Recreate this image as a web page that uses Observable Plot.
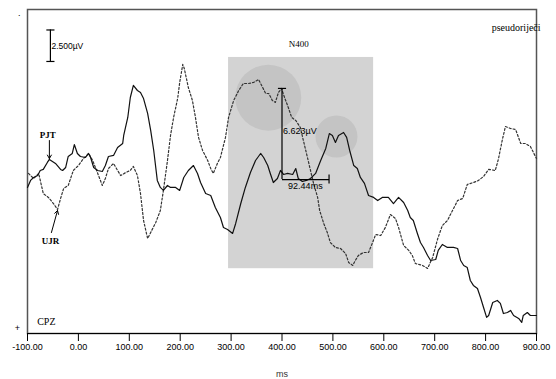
<!DOCTYPE html>
<html>
<head>
<meta charset="utf-8">
<script src="https://cdn.jsdelivr.net/npm/d3@7"></script>
<script src="https://cdn.jsdelivr.net/npm/@observablehq/plot@0.6"></script>
<style>
  html, body { margin: 0; padding: 0; background: #fff; }
  #chart svg { display: block; }
</style>
</head>
<body>
<div id="chart"></div>
<script>
// ---- data (ms, µV; negative drawn upward) ----
const timesPJT = [-100,-94,-88,-80,-75,-69,-61,-57,-45,-35,-31,-25,-20,-12,-8,-2,4,14,20,24,30,38,47,53,59,69,77,87,89,97,102,108,116,122,128,136,142,148,155,161,167,175,181,191,199,207,216,226,234,240,250,260,269,279,285,293,303,309,319,328,338,348,358,364,372,377,383,391,397,403,411,421,427,432,440,448,456,466,476,486,493,499,505,511,521,527,533,541,548,554,562,570,580,588,597,609,619,629,639,647,652,658,666,672,678,686,692,702,707,715,725,737,745,751,757,764,770,776,784,790,796,802,806,814,823,829,835,843,849,855,865,871,874,882,888,900];
const valuesPJT = [0.73,0.19,-0.04,-0.19,-0.58,-0.66,-1.20,-1.43,-1.12,-0.66,-0.58,-0.81,-1.66,-1.89,-2.58,-1.89,-1.66,-1.58,-1.89,-1.58,-0.81,-0.58,-0.50,-0.96,-1.66,-1.74,-2.35,-2.66,-3.28,-4.67,-6.21,-7.14,-6.75,-6.60,-6.13,-4.98,-3.67,-2.12,0.19,0.73,0.96,0.58,0.73,0.73,0.96,-0.04,-0.58,-0.96,-0.35,0.35,1.20,1.35,2.28,3.05,3.82,3.97,4.28,3.51,1.97,0.73,-0.42,-1.35,-1.89,-1.58,-0.96,-0.35,0.35,0.04,-0.58,-0.27,-0.35,-0.27,-0.73,0.04,0.27,0.19,0.04,-0.35,-1.35,-2.28,-3.43,-3.28,-2.74,-3.28,-3.51,-3.13,-2.12,-0.96,-0.73,-0.04,0.42,1.35,1.50,1.74,1.50,1.50,1.97,1.50,1.89,2.51,3.05,3.28,4.28,4.98,5.36,5.98,6.37,6.29,5.59,5.13,5.36,5.36,5.44,6.37,6.75,6.91,7.91,8.29,8.53,9.22,9.99,10.76,10.61,9.61,9.45,9.68,10.46,10.38,10.22,10.61,10.84,11.15,10.61,10.38,10.61,10.61];

const timesUJR = [-98,-88,-78,-69,-59,-49,-41,-35,-29,-20,-10,0,10,20,28,38,47,53,59,69,77,83,93,102,108,116,122,128,136,142,152,161,167,175,181,187,195,199,205,208,216,224,230,236,244,254,260,265,273,279,289,295,305,315,324,334,344,354,362,368,374,381,387,393,399,405,411,419,427,436,442,450,456,462,470,474,482,489,495,505,515,525,531,539,544,550,560,570,578,584,594,603,613,623,629,639,649,656,662,676,686,696,706,715,725,735,745,755,764,776,786,796,806,819,825,833,839,849,859,869,878,888,900];
const valuesUJR = [-0.35,0.04,-0.35,1.20,1.50,1.97,2.43,1.58,0.81,0.58,-0.58,-0.96,-1.50,-1.89,-1.35,-0.35,0.58,0.04,-0.73,-1.12,-0.58,-0.19,-0.42,-0.58,-0.89,-0.19,1.20,3.28,4.67,4.21,3.43,2.51,0.96,-1.35,-3.28,-4.67,-6.13,-7.37,-8.76,-8.45,-6.98,-5.98,-4.67,-3.13,-2.12,-1.35,-0.73,-0.35,-1.12,-1.58,-3.13,-4.67,-5.98,-6.75,-7.29,-7.29,-7.37,-7.60,-6.98,-6.52,-6.52,-5.98,-5.83,-6.60,-6.91,-6.21,-5.59,-4.67,-4.44,-3.90,-2.89,-1.58,-0.58,0.42,1.50,2.51,3.51,4.21,4.98,5.36,5.44,5.83,6.52,6.75,6.37,5.98,5.75,5.75,4.98,4.36,4.44,3.82,2.82,3.13,3.82,5.21,5.59,5.98,6.60,6.75,6.98,6.13,4.67,3.67,3.28,2.51,1.74,1.58,0.50,0.35,0.19,-0.12,-0.66,-0.58,-1.43,-2.97,-3.97,-3.82,-3.74,-2.66,-2.66,-2.43,-1.50];

// N400 window and highlighted regions
const windowMs = [295, 580];
const windowUv = [-9.3, 7.0];
const highlightMs = [373, 507];
const highlightUv = [-6.2, -3.2];

// measurement annotation
const measureMs = [400, 492.44];
const measureUv = [-6.91, 0.12];
const measureLabels = ["6.623µV", "92.44ms"];

// scale bar
const scaleBarMs = -55;
const scaleBarUv = [-11.42, -8.99];
const scaleBarLabel = "2.500µV";

const xTicks = [-100, 0, 100, 200, 300, 400, 500, 600, 700, 800, 900];

const seriesP = timesPJT.map((t, i) => ({t, v: valuesPJT[i], s: "PJT"}));
const seriesU = timesUJR.map((t, i) => ({t, v: valuesUJR[i], s: "UJR"}));

const serif = "'Liberation Serif', 'Times New Roman', serif";
const sans = "'Liberation Sans', Arial, sans-serif";

const chart = Plot.plot({
  width: 556,
  height: 379,
  marginLeft: 27,
  marginRight: 20,
  marginTop: 9,
  marginBottom: 46,
  x: {domain: [-100, 900]},
  y: {domain: [12, -13], axis: null},
  style: {background: "#fff", overflow: "visible"},
  marks: [
    // N400 window
    Plot.rect([{x1: windowMs[0], x2: windowMs[1], y1: windowUv[0], y2: windowUv[1]}],
      {x1: "x1", x2: "x2", y1: "y1", y2: "y2", fill: "#d3d3d3"}),
    Plot.dot([{x: highlightMs[0], y: highlightUv[0]}], {x: "x", y: "y", r: 33, fill: "#c4c4c4", stroke: "none"}),
    Plot.dot([{x: highlightMs[1], y: highlightUv[1]}], {x: "x", y: "y", r: 21, fill: "#c4c4c4", stroke: "none"}),
    // frame
    Plot.frame({stroke: "#555", strokeWidth: 1.5}),
    Plot.ruleY([12], {stroke: "#000", strokeWidth: 1.2}),
    // curves
    Plot.line(seriesU, {x: "t", y: "v", stroke: "#333", strokeWidth: 1.2, strokeDasharray: "2,2"}),
    Plot.line(seriesP, {x: "t", y: "v", stroke: "#111", strokeWidth: 1.2}),
    // measurement
    Plot.ruleX([measureMs[0]], {y1: measureUv[0], y2: measureUv[1], stroke: "#000", strokeWidth: 1.2}),
    Plot.link([{a: measureMs[0] - 8, b: measureMs[0] + 8, y: measureUv[0]}], {x1: "a", x2: "b", y1: "y", y2: "y", stroke: "#000", strokeWidth: 1.2}),
    Plot.link([{a: measureMs[0], b: measureMs[1], y: measureUv[1]}], {x1: "a", x2: "b", y1: "y", y2: "y", stroke: "#000", strokeWidth: 1.2}),
    Plot.ruleX([measureMs[1]], {y1: measureUv[1] - 0.35, y2: measureUv[1] + 0.35, stroke: "#000", strokeWidth: 1.2}),
    Plot.text([measureLabels[0]], {x: measureMs[0] + 2, y: -3.6, text: d => d, textAnchor: "start", fontSize: 9, fontFamily: sans, fill: "#000"}),
    Plot.text([measureLabels[1]], {x: measureMs[0] + 12, y: 0.65, text: d => d, textAnchor: "start", fontSize: 9, fontFamily: sans, fill: "#000"}),
    // scale bar
    Plot.ruleX([scaleBarMs], {y1: scaleBarUv[0], y2: scaleBarUv[1], stroke: "#000", strokeWidth: 1.2}),
    Plot.link(scaleBarUv.map(y => ({a: scaleBarMs - 8, b: scaleBarMs + 8, y})), {x1: "a", x2: "b", y1: "y", y2: "y", stroke: "#000", strokeWidth: 1.2}),
    Plot.text([scaleBarLabel], {x: scaleBarMs + 2, y: -10.2, text: d => d, textAnchor: "start", fontSize: 8.5, fontFamily: sans, fill: "#000"}),
    // series labels & arrows
    Plot.arrow([{x: -57, y1: -2.89, y2: -1.5}], {x: "x", y1: "y1", y2: "y2", stroke: "#000", strokeWidth: 1, headLength: 6}),
    Plot.arrow([{x1: -53, x2: -41, y1: 4.21, y2: 2.51}], {x1: "x1", x2: "x2", y1: "y1", y2: "y2", stroke: "#000", strokeWidth: 1, headLength: 6}),
    Plot.text(["PJT"], {x: -60, y: -3.3, text: d => d, fontSize: 9, fontFamily: serif, fontWeight: "bold", fill: "#000"}),
    Plot.text(["UJR"], {x: -55, y: 4.85, text: d => d, fontSize: 9, fontFamily: serif, fontWeight: "bold", fill: "#000"}),
    Plot.text(["CPZ"], {x: -63, y: 11.1, text: d => d, fontSize: 10, fontFamily: serif, fill: "#000"}),
    Plot.text(["N400"], {x: 433, y: -10.3, text: d => d, fontSize: 9, fontFamily: serif, fill: "#000"}),
    Plot.text(["pseudoriječi"], {x: 860, y: -11.6, text: d => d, fontSize: 10, fontFamily: serif, fill: "#000"}),
    Plot.text(["+"], {x: -120, y: 11.6, text: d => d, fontSize: 9, fontFamily: sans, fill: "#000"}),
    Plot.text(["·"], {x: -116, y: -12.6, text: d => d, fontSize: 9, fontFamily: sans, fill: "#000"}),
    // x axis
    Plot.axisX({ticks: xTicks, tickFormat: d => d.toFixed(2), tickSize: 8, tickPadding: 2, fontSize: 9, fontFamily: sans, label: null, stroke: "#000"}),
    Plot.text(["ms"], {x: 400, y: 15.1, text: d => d, fontSize: 9, fontFamily: sans, fill: "#333"})
  ]
});
document.getElementById("chart").appendChild(chart);
</script>
</body>
</html>
